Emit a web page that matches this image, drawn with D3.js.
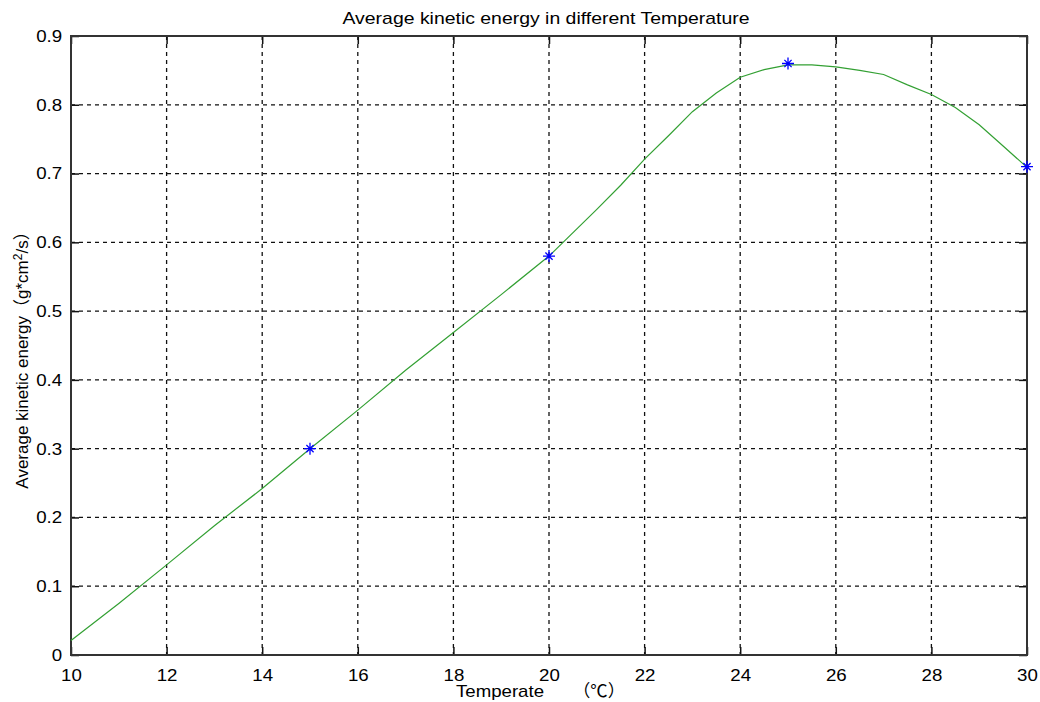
<!DOCTYPE html>
<html><head><meta charset="utf-8">
<script src="https://cdn.jsdelivr.net/npm/d3@7"></script>
<style>
body{margin:0;background:#fff;}
text{font-family:"Liberation Sans",Arial,"Noto Sans CJK SC",sans-serif;fill:#000;}
</style></head>
<body>
<svg id="c" width="1040" height="702"></svg>
<script>
const curveX = [10,11,12,13,14,15,16,17,18,19,20,21,21.5,22,22.5,23,23.5,24,24.5,25,25.5,26,26.5,27,27.5,28,28.5,29,29.5,30];
const curveY = [0.021,0.075,0.131,0.188,0.242,0.300,0.356,0.414,0.469,0.524,0.580,0.648,0.683,0.721,0.755,0.790,0.817,0.840,0.851,0.858,0.858,0.855,0.850,0.844,0.829,0.815,0.796,0.771,0.740,0.709];
const markX = [15,20,25,30];
const markY = [0.30,0.58,0.86,0.71];
const xTicks = [10,12,14,16,18,20,22,24,26,28,30];
const yTicks = [0,0.1,0.2,0.3,0.4,0.5,0.6,0.7,0.8,0.9];
const titleText = "Average kinetic energy in different Temperature";
const xLabelMain = "Temperate";
const xLabelUnit = "（℃）";

const L=71,R=1027,T=36,B=655;
const svg=d3.select("#c");
const x=d3.scaleLinear().domain([10,30]).range([L,R]);
const y=d3.scaleLinear().domain([0,0.9]).range([B,T]);

// grid
const g=svg.append("g");
g.selectAll(".gx").data(xTicks.slice(1,-1)).enter().append("line")
 .attr("x1",d=>x(d)).attr("x2",d=>x(d)).attr("y1",T).attr("y2",B)
 .attr("stroke","#111").attr("stroke-width",1.3).attr("stroke-dasharray","4,4");
g.selectAll(".gy").data(yTicks.slice(1,-1)).enter().append("line")
 .attr("y1",d=>y(d)).attr("y2",d=>y(d)).attr("x1",L).attr("x2",R)
 .attr("stroke","#111").attr("stroke-width",1.3).attr("stroke-dasharray","4,4");

// axes
const xa=svg.append("g").attr("transform",`translate(0,${B})`)
 .call(d3.axisBottom(x).tickValues(xTicks).tickSize(-8).tickPadding(14).tickFormat(d3.format("d")));
const xt=svg.append("g").attr("transform",`translate(0,${T})`)
 .call(d3.axisTop(x).tickValues(xTicks).tickSize(-8).tickFormat(""));
const ya=svg.append("g").attr("transform",`translate(${L},0)`)
 .call(d3.axisLeft(y).tickValues(yTicks).tickSize(-8).tickPadding(8).tickFormat(d=>d===0?"0":d3.format(".1f")(d)));
const yr=svg.append("g").attr("transform",`translate(${R},0)`)
 .call(d3.axisRight(y).tickValues(yTicks).tickSize(-8).tickFormat(""));
[xa,xt,ya,yr].forEach(a=>{
  a.selectAll("path").remove();
  a.selectAll("line").attr("stroke","#111").attr("stroke-width",1.5);
  a.selectAll("text").attr("font-size",17).attr("fill","#000")
   .style("font-family",'"Liberation Sans",Arial,sans-serif')
   .attr("transform","scale(1.1,1)");
});
svg.append("rect").attr("x",L).attr("y",T).attr("width",R-L).attr("height",B-T)
 .attr("fill","none").attr("stroke","#333").attr("stroke-width",2);

// line
const line=d3.line().x((d,i)=>x(curveX[i])).y(d=>y(d));
svg.append("path").datum(curveY).attr("d",line).attr("fill","none")
 .attr("stroke","#33a033").attr("stroke-width",1.2);

// markers
const s=6;
const star=`M0,${-s}V${s}M${-s},0H${s}M${-s*0.6},${-s*0.6}L${s*0.6},${s*0.6}M${-s*0.6},${s*0.6}L${s*0.6},${-s*0.6}`;
svg.selectAll(".m").data(markY).enter().append("path")
 .attr("transform",(d,i)=>`translate(${x(markX[i])},${y(d)})`)
 .attr("d",star).attr("stroke","#0000ff").attr("stroke-width",1.3).attr("fill","none");

// title & labels
svg.append("text").attr("x",342.5).attr("y",24)
 .attr("font-size",17).attr("textLength",407).attr("lengthAdjust","spacingAndGlyphs").text(titleText);
svg.append("text").attr("x",456).attr("y",697)
 .attr("font-size",17).attr("textLength",88).attr("lengthAdjust","spacingAndGlyphs").text(xLabelMain);
svg.append("text").attr("x",573).attr("y",697)
 .attr("font-size",17).attr("textLength",52).attr("lengthAdjust","spacingAndGlyphs").text(xLabelUnit);
const yl=svg.append("text").attr("transform","translate(28,356) rotate(-90)")
 .attr("text-anchor","middle").attr("font-size",17);
yl.append("tspan").text("Average kinetic energy（g*cm");
yl.append("tspan").attr("font-size",12).attr("dy",-6).text("2");
yl.append("tspan").attr("dy",6).text("/s）");
</script>
</body></html>
